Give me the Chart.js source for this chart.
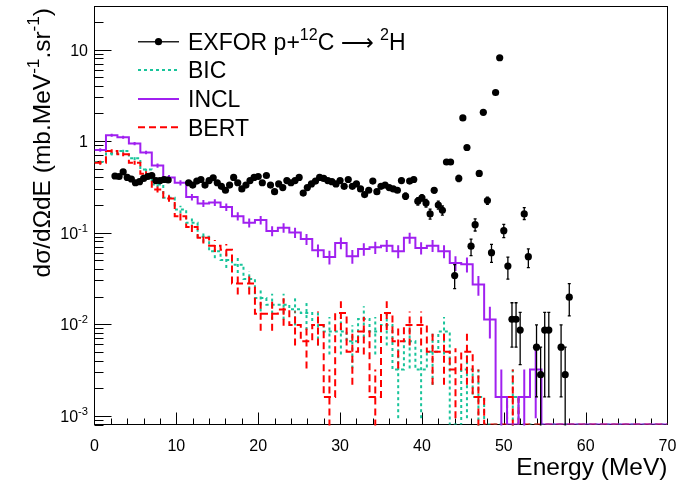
<!DOCTYPE html>
<html>
<head>
<meta charset="utf-8">
<script src="https://cdn.jsdelivr.net/npm/chart.js@4/dist/chart.umd.min.js"></script>
<style>
  html, body { margin: 0; padding: 0; background: #fff; }
  #wrap { width: 685px; height: 480px; }
</style>
</head>
<body>
<div id="wrap"><canvas id="chartData" width="685" height="480"></canvas></div>
<script>
// axis ranges
const yMin = 0.0008
const yMax = 29.5
const xTicks = [0, 10, 20, 30, 40, 50, 60, 70]
const yDecades = [0.001, 0.01, 0.1, 1, 10]
const yTickLabels = [['10', '-3'], ['10', '-2'], ['10', '-1'], ['1', ''], ['10', '']]

// simulation histograms, 50 bins of 1.4 MeV
const binWidth = 1.4
const eventWeight = 0.0016 // one event in a bin

const bicValues = [
  0.59, 0.73, 0.78, 0.65, 0.49, 0.335, 0.24, 0.179, 0.128, 0.09,
  0.0625, 0.05, 0.0446, 0.031, 0.0193, 0.0163, 0.0163, 0.0145, 0.0132, 0.0098,
  0.0083, 0.0083, 0.0065, 0.0114, 0.0083, 0.0098, 0.0032, 0.0065, 0.0032, 0.005,
  0.0083, 0, 0.0032, 0.0016, 0, 0, 0.0016, 0, 0, 0,
  0, 0, 0, 0, 0, 0, 0, 0, 0, 0
]
const inclValues = [
  0.80, 1.16, 1.10, 0.94, 0.75, 0.54, 0.40, 0.35, 0.244, 0.208,
  0.213, 0.19, 0.151, 0.128, 0.137, 0.104, 0.113, 0.100, 0.085, 0.064,
  0.054, 0.077, 0.055, 0.066, 0.069, 0.072, 0.0625, 0.0875, 0.068, 0.072,
  0.0625, 0.0466, 0.045, 0.027, 0.0112, 0.0016, 0, 0.0016, 0.0032, 0,
  0, 0, 0, 0, 0, 0, 0, 0, 0, 0
]
const bertValues = [
  0.58, 0.78, 0.715, 0.58, 0.44, 0.296, 0.236, 0.151, 0.115, 0.088,
  0.072, 0.065, 0.0277, 0.0277, 0.013, 0.013, 0.0144, 0.0098, 0.0065, 0.0098,
  0.0016, 0.0132, 0.005, 0.0083, 0.0016, 0.0132, 0.0065, 0.0098, 0.0098, 0.005,
  0.005, 0.0032, 0.005, 0.0016, 0, 0, 0.0016, 0, 0, 0,
  0, 0, 0, 0, 0, 0, 0, 0, 0, 0
]

// EXFOR measured points
const exforEnergy = [
  2.5, 3, 3.5, 4, 4.5, 5, 5.5, 6, 6.5, 7, 7.5, 8, 8.5, 9,
  11.5, 12, 12.5, 13, 13.5, 14, 14.5, 15, 15.5, 16, 16.5, 17, 17.5, 18, 18.5, 19, 19.5, 20,
  20.5, 21, 21.5, 22, 22.5, 23, 23.5, 24, 24.5, 25, 25.5, 26, 26.5, 27, 27.5, 28, 28.5,
  29, 29.5, 30, 30.5, 31, 31.5, 32, 32.5, 33, 33.5, 34, 34.5, 35, 35.5, 36, 36.5, 37,
  37.5, 38, 38.5, 39, 39.5, 40, 40.5, 41, 41.5, 42, 42.5,
  43, 43.5, 44, 44.5, 45, 45.5, 46, 46.5, 47, 47.5, 48, 48.5, 49, 49.5, 50, 50.5,
  51, 51.5, 52, 52.5, 53, 54, 54.5, 55, 55.5, 57, 57.5, 58
]
const exforValue = [
  0.415, 0.41, 0.46, 0.40, 0.385, 0.35, 0.36, 0.39, 0.41, 0.42, 0.37, 0.37, 0.38, 0.375,
  0.35, 0.33, 0.365, 0.38, 0.33, 0.37, 0.397, 0.35, 0.32, 0.29, 0.33, 0.40, 0.35, 0.30, 0.33, 0.37, 0.40, 0.41,
  0.35, 0.42, 0.33, 0.28, 0.34, 0.31, 0.37, 0.35, 0.37, 0.40, 0.27, 0.31, 0.34, 0.365, 0.40, 0.39, 0.37,
  0.36, 0.34, 0.37, 0.32, 0.38, 0.32, 0.34, 0.30, 0.26, 0.29, 0.365, 0.28, 0.32, 0.33, 0.31, 0.30, 0.29,
  0.37, 0.25, 0.365, 0.38, 0.22, 0.24, 0.21, 0.16, 0.29, 0.20, 0.175,
  0.59, 0.59, 0.0339, 0.39, 1.79, 0.85, 0.071, 0.122, 0.443, 2.06, 0.224, 0.0603, 3.39, 8.13, 0.105, 0.043,
  0.0113, 0.0113, 0.0086, 0.16, 0.0545, 0.0056, 0.0028, 0.0086, 0.0086, 0.0056, 0.0028, 0.0197
]
const exforErrLow = [
  0.01, 0.01, 0.01, 0.01, 0.01, 0.01, 0.01, 0.01, 0.01, 0.01, 0.01, 0.01, 0.01, 0.01,
  0.01, 0.01, 0.01, 0.01, 0.01, 0.01, 0.01, 0.01, 0.01, 0.01, 0.01, 0.01, 0.01, 0.01, 0.01, 0.01, 0.01, 0.01,
  0.01, 0.01, 0.01, 0.01, 0.01, 0.01, 0.01, 0.01, 0.01, 0.01, 0.01, 0.01, 0.01, 0.01, 0.01, 0.01, 0.01,
  0.01, 0.01, 0.01, 0.01, 0.01, 0.01, 0.01, 0.01, 0.01, 0.01, 0.01, 0.01, 0.01, 0.01, 0.01, 0.01, 0.01,
  0.02, 0.02, 0.02, 0.02, 0.02, 0.02, 0.02, 0.02, 0.02, 0.02, 0.02,
  0.03, 0.03, 0.0095, 0.03, 0.06, 0.04, 0.015, 0.018, 0.03, 0.07, 0.02, 0.013, 0.1, 0.2, 0.017, 0.012,
  0.0057, 0.0057, 0.005, 0.021, 0.013, 0.004, 0.0028, 0.007, 0.007, 0.004, 0.0028, 0.0074
]
const exforErrHigh = [
  0.01, 0.01, 0.01, 0.01, 0.01, 0.01, 0.01, 0.01, 0.01, 0.01, 0.01, 0.01, 0.01, 0.01,
  0.01, 0.01, 0.01, 0.01, 0.01, 0.01, 0.01, 0.01, 0.01, 0.01, 0.01, 0.01, 0.01, 0.01, 0.01, 0.01, 0.01, 0.01,
  0.01, 0.01, 0.01, 0.01, 0.01, 0.01, 0.01, 0.01, 0.01, 0.01, 0.01, 0.01, 0.01, 0.01, 0.01, 0.01, 0.01,
  0.01, 0.01, 0.01, 0.01, 0.01, 0.01, 0.01, 0.01, 0.01, 0.01, 0.01, 0.01, 0.01, 0.01, 0.01, 0.01, 0.01,
  0.02, 0.02, 0.02, 0.02, 0.02, 0.02, 0.02, 0.02, 0.02, 0.02, 0.02,
  0.03, 0.03, 0.0107, 0.03, 0.06, 0.04, 0.014, 0.019, 0.03, 0.07, 0.02, 0.014, 0.1, 0.2, 0.018, 0.011,
  0.0058, 0.0058, 0.0048, 0.027, 0.012, 0.0042, 0.0028, 0.0048, 0.0048, 0.0042, 0.0028, 0.008
]

const fontFamily = '"Liberation Sans", Arial, Helvetica, sans-serif'
const symbolFamily = '"DejaVu Sans", sans-serif'
const bicColor = '#18c49a'
const inclColor = '#a020f0'
const bertColor = '#ff0000'

function font(size, family) {
  return size + 'px ' + (family || fontFamily)
}

// histogram -> stepped line points at left bin edges (empty bins sit on the axis floor)
function histo(values) {
  const pts = values.map((v, i) => ({ x: i * binWidth, y: v > 0 ? v : yMin }))
  pts.push({ x: values.length * binWidth, y: values[values.length - 1] > 0 ? values[values.length - 1] : yMin })
  return pts
}

// text with superscripts: parts = [[text, isSup, family], ...]
function drawRich(ctx, parts, x, y, size, align) {
  const supSize = size * 0.7
  const widths = parts.map(([t, sup, fam]) => {
    ctx.font = font(sup ? supSize : size, fam)
    return ctx.measureText(t).width
  })
  const total = widths.reduce((s, w) => s + w, 0)
  let cx = align === 'right' ? x - total : align === 'center' ? x - total / 2 : x
  ctx.textAlign = 'left'
  ctx.textBaseline = 'alphabetic'
  parts.forEach(([t, sup, fam], i) => {
    ctx.font = font(sup ? supSize : size, fam)
    ctx.fillText(t, cx, sup ? y - size * 0.42 : y)
    cx += widths[i]
  })
}

const rootAxes = {
  id: 'rootAxes',
  beforeDatasetsDraw(chart) {
    const { ctx, chartArea: a, scales: { x, y } } = chart
    ctx.save()
    ctx.strokeStyle = '#000'
    ctx.lineWidth = 1
    ctx.strokeRect(a.left, a.top, a.right - a.left, a.bottom - a.top)
    // y ticks (decades long, 2..9 short), pointing inward
    for (let d = -4; d <= 1; d++) {
      for (let m = 1; m <= 9; m++) {
        const v = m * Math.pow(10, d)
        if (v < yMin || v > yMax) continue
        const py = Math.round(y.getPixelForValue(v)) + 0.5
        ctx.beginPath()
        ctx.moveTo(a.left, py)
        ctx.lineTo(a.left + (m === 1 ? 17 : 9), py)
        ctx.stroke()
      }
    }
    // x ticks every 2 MeV
    for (let e = 2; e < 70; e += 2) {
      const px = Math.round(x.getPixelForValue(e)) + 0.5
      ctx.beginPath()
      ctx.moveTo(px, a.bottom)
      ctx.lineTo(px, a.bottom - (e % 10 === 0 ? 12 : 6))
      ctx.stroke()
    }
    ctx.restore()
  },
  afterDatasetDraw(chart, args) {
    const ds = chart.data.datasets[args.index]
    const { ctx, chartArea: a, scales: { x, y } } = chart
    ctx.save()
    ctx.beginPath()
    ctx.rect(a.left, a.top, a.right - a.left, a.bottom - a.top + 1)
    ctx.clip()
    if (ds.binValues) {
      // statistical error bars at bin centres
      ctx.strokeStyle = ds.borderColor
      ctx.lineWidth = ds.borderWidth
      ctx.setLineDash(ds.borderDash || [])
      ds.binValues.forEach((v, i) => {
        if (v <= 0) return
        const err = Math.sqrt(v * eventWeight)
        const px = x.getPixelForValue((i + 0.5) * binWidth)
        const lo = v - err > yMin ? y.getPixelForValue(v - err) : a.bottom + 2
        const hi = y.getPixelForValue(v + err)
        ctx.beginPath()
        ctx.moveTo(px, lo)
        ctx.lineTo(px, hi)
        ctx.stroke()
      })
    }
    if (ds.withErrors) {
      ctx.strokeStyle = '#000'
      ctx.lineWidth = 1.3
      exforEnergy.forEach((e, i) => {
        const v = exforValue[i]
        const px = x.getPixelForValue(e)
        const lo = v - exforErrLow[i] > yMin ? y.getPixelForValue(v - exforErrLow[i]) : a.bottom + 2
        const hi = y.getPixelForValue(v + exforErrHigh[i])
        ctx.beginPath()
        ctx.moveTo(px, lo)
        ctx.lineTo(px, hi)
        ctx.moveTo(px - 1.5, lo)
        ctx.lineTo(px + 1.5, lo)
        ctx.moveTo(px - 1.5, hi)
        ctx.lineTo(px + 1.5, hi)
        ctx.stroke()
      })
    }
    ctx.restore()
  },
  afterDraw(chart) {
    const { ctx, chartArea: a, scales: { y } } = chart
    ctx.save()
    ctx.fillStyle = '#000'
    // y tick labels
    yDecades.forEach((v, i) => {
      const [base, sup] = yTickLabels[i]
      const parts = sup ? [[base, false], [sup, true]] : [[base, false]]
      drawRich(ctx, parts, 88, y.getPixelForValue(v) + 6, 16, 'right')
    })
    // y title, rotated, aligned to the top
    ctx.save()
    ctx.translate(49.5, 0)
    ctx.rotate(-Math.PI / 2)
    drawRich(ctx, [['d\u03C3/d\u03A9dE (mb.MeV', false], ['-1', true], ['.sr', false], ['-1', true], [')', false]],
      -8, 0, 24.5, 'right')
    ctx.restore()
    // x title
    drawRich(ctx, [['Energy (MeV)', false]], a.right, 474.5, 24.5, 'right')

    // legend
    const rows = [
      { y: 41.7, parts: [['EXFOR p+', false], ['12', true], ['C ', false], ['\u27F6', false, symbolFamily], [' ', false], ['2', true], ['H', false]], color: '#222', dash: [], width: 1.5, dot: true },
      { y: 70, parts: [['BIC', false]], color: bicColor, dash: [3, 3], width: 2 },
      { y: 99, parts: [['INCL', false]], color: inclColor, dash: [], width: 2 },
      { y: 127.3, parts: [['BERT', false]], color: bertColor, dash: [7, 4], width: 2 }
    ]
    rows.forEach(r => {
      ctx.strokeStyle = r.color
      ctx.lineWidth = r.width
      ctx.setLineDash(r.dash)
      ctx.beginPath()
      ctx.moveTo(138, r.y)
      ctx.lineTo(179, r.y)
      ctx.stroke()
      ctx.setLineDash([])
      if (r.dot) {
        ctx.fillStyle = '#000'
        ctx.beginPath()
        ctx.arc(158.5, r.y, 3.6, 0, Math.PI * 2)
        ctx.fill()
      }
      ctx.fillStyle = '#000'
      drawRich(ctx, r.parts, 188, r.y + 8.3, 23, 'left')
    })
    ctx.restore()
  }
}

const chartsData = document.getElementById('chartData')

new Chart(chartsData, {
  type: 'line',
  data: {
    datasets: [{
      label: 'EXFOR p+12C \u2192 2H',
      data: exforEnergy.map((e, i) => ({ x: e, y: exforValue[i] })),
      showLine: false,
      pointRadius: 3.6,
      pointBackgroundColor: '#000',
      pointBorderWidth: 0,
      withErrors: true
    }, {
      label: 'INCL',
      data: histo(inclValues),
      binValues: inclValues,
      borderColor: inclColor,
      borderWidth: 2,
      stepped: true,
      pointRadius: 0,
      fill: false
    }, {
      label: 'BERT',
      data: histo(bertValues),
      binValues: bertValues,
      borderColor: bertColor,
      borderWidth: 2,
      borderDash: [7, 4],
      stepped: true,
      pointRadius: 0,
      fill: false
    }, {
      label: 'BIC',
      data: histo(bicValues),
      binValues: bicValues,
      borderColor: bicColor,
      borderWidth: 2,
      borderDash: [3, 3],
      stepped: true,
      pointRadius: 0,
      fill: false
    }]
  },
  options: {
    responsive: false,
    animation: false,
    events: [],
    layout: { padding: { top: 6.5, right: 17.5, left: 0, bottom: 0 } },
    plugins: {
      legend: { display: false },
      tooltip: { enabled: false }
    },
    scales: {
      x: {
        type: 'linear',
        min: 0,
        max: 70,
        grid: { display: false },
        border: { display: false },
        afterBuildTicks: (s) => { s.ticks = xTicks.map(v => ({ value: v })) },
        ticks: {
          padding: 4,
          color: '#000',
          autoSkip: false,
          maxRotation: 0,
          font: { family: fontFamily, size: 16 },
          callback: (v) => String(v)
        },
        afterFit: (s) => { s.height = 55.5 }
      },
      y: {
        type: 'logarithmic',
        min: yMin,
        max: yMax,
        grid: { display: false },
        border: { display: false },
        ticks: { display: false },
        afterFit: (s) => { s.width = 94.5 }
      }
    }
  },
  plugins: [rootAxes]
})
</script>
</body>
</html>
